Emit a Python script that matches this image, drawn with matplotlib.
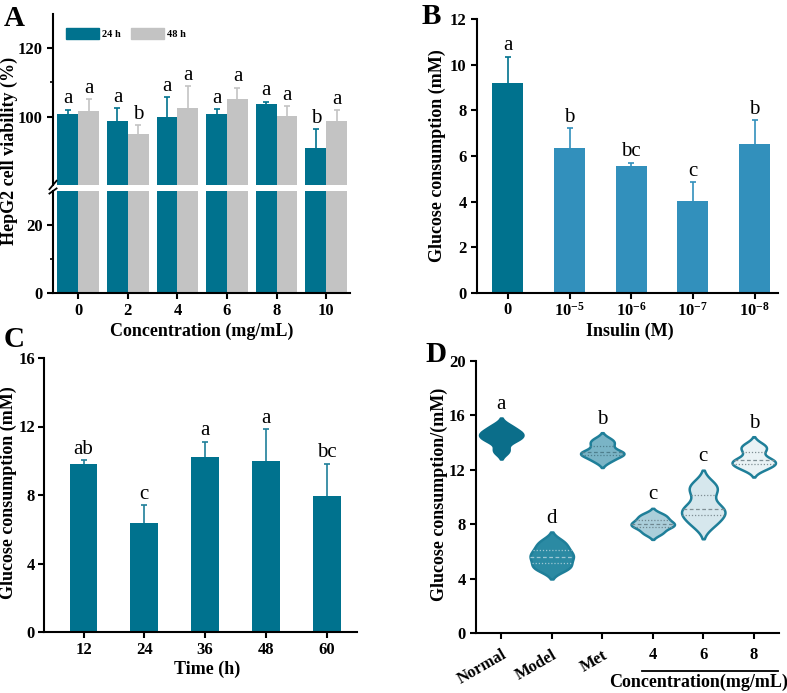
import numpy as np
import matplotlib.pyplot as plt
from matplotlib.patches import Patch
import matplotlib.transforms as mtransforms

plt.rcParams['font.family'] = ['Liberation Serif', 'DejaVu Serif']
plt.rcParams['font.weight'] = 'bold'
plt.rcParams['mathtext.fontset'] = 'custom'
plt.rcParams['mathtext.rm'] = 'Liberation Serif'
plt.rcParams['mathtext.bf'] = 'Liberation Serif:bold'
plt.rcParams['axes.linewidth'] = 1.5
plt.rcParams['xtick.major.width'] = 1.5
plt.rcParams['ytick.major.width'] = 1.5
plt.rcParams['ytick.minor.width'] = 1.2
plt.rcParams['xtick.major.size'] = 4
plt.rcParams['ytick.major.size'] = 4
plt.rcParams['ytick.minor.size'] = 2.5
plt.rcParams['xtick.labelsize'] = 12
plt.rcParams['ytick.labelsize'] = 12

# ---- data ----
# A: cell viability
conc_labels = ['0', '2', '4', '6', '8', '10']
via_24 = [100.8, 98.6, 100.0, 100.7, 103.7, 90.8]
sd_24 = [1.2, 3.9, 5.6, 1.5, 0.7, 5.6]
via_48 = [101.7, 94.9, 102.5, 105.1, 100.2, 98.6]
sd_48 = [3.4, 2.6, 6.4, 3.4, 2.8, 3.3]
sig_24 = ['a', 'a', 'a', 'a', 'a', 'b']
sig_48 = ['a', 'b', 'a', 'a', 'a', 'a']

# B: insulin
ins_labels = ['0', r'$\mathbf{10^{-5}}$', r'$\mathbf{10^{-6}}$', r'$\mathbf{10^{-7}}$', r'$\mathbf{10^{-8}}$']
ins_mean = [9.18, 6.35, 5.57, 4.05, 6.51]
ins_sd = [1.17, 0.86, 0.13, 0.81, 1.06]
ins_sig = ['a', 'b', 'bc', 'c', 'b']

# C: time
time_labels = ['12', '24', '36', '48', '60']
time_mean = [9.82, 6.36, 10.19, 10.01, 7.96]
time_sd = [0.21, 1.04, 0.92, 1.84, 1.86]
time_sig = ['ab', 'c', 'a', 'a', 'bc']

# D: treatment groups (replicates)
grp_labels = ['Normal', 'Model', 'Met', '4', '6', '8']
g_normal = [13.4, 14.1, 14.4, 14.6, 14.8, 15.2]
g_model = [4.7, 5.0, 5.5, 5.75, 6.2, 6.7]
g_met = [12.7, 13.1, 13.2, 13.35, 13.85, 14.2]
g_c4 = [7.35, 7.75, 7.95, 8.1, 8.4, 8.7]
g_c6 = [8.0, 8.6, 9.0, 9.3, 10.4, 10.9]
g_c8 = [12.1, 12.4, 12.6, 12.8, 13.45, 13.8]
grp_sig = ['a', 'd', 'b', 'c', 'c', 'b']

teal = '#00728E'
gray = '#C3C3C3'
blue = '#3290BC'
W, H = 787, 693


def px_axes(left, top, right, bottom):
    return [left / W, 1 - bottom / H, (right - left) / W, (bottom - top) / H]


def letters(ax, xs, tops, labs, size=15):
    for xx, tt, ll in zip(xs, tops, labs):
        ax.annotate(ll, (xx, tt), xytext=(0, 1), textcoords='offset points',
                    ha='center', va='bottom', fontsize=size, fontweight='normal')


def up_err(ax, xs, means, sds, color):
    # lower half sits behind the bar, so only the upper whisker shows
    ax.errorbar(xs, means, yerr=sds, fmt='none', ecolor=color, elinewidth=1.2,
                capsize=2.5, capthick=1.2, zorder=0.5)


fig = plt.figure(figsize=(W / 100, H / 100), dpi=100)

# ---------------- A ----------------
x = np.arange(len(conc_labels))
axA = fig.add_axes(px_axes(53, 14, 350, 185))
axA2 = fig.add_axes(px_axes(53, 191, 350, 293))
for ax in (axA, axA2):
    ax.bar(x - 0.21, via_24, 0.42, color=teal, zorder=1)
    ax.bar(x + 0.21, via_48, 0.42, color=gray, zorder=1)
    ax.set_xlim(-0.51, 5.48)
    ax.spines['top'].set_visible(False)
    ax.spines['right'].set_visible(False)
up_err(axA, x - 0.21, via_24, sd_24, teal)
up_err(axA, x + 0.21, via_48, sd_48, gray)
axA.set_ylim(80, 130)
axA.set_yticks([100, 120])
axA.set_yticks([110], minor=True)
axA.spines['bottom'].set_visible(False)
axA.set_xticks([])
axA2.set_ylim(0, 30)
axA2.set_yticks([0, 20])
axA2.set_yticks([10], minor=True)
axA2.set_xticks(x)
axA2.set_xticklabels(conc_labels)
letters(axA, x - 0.21, np.add(via_24, sd_24), sig_24)
letters(axA, x + 0.21, np.add(via_48, sd_48), sig_48)
# break marks
for ax, yy in ((axA, 0.0), (axA2, 1.0)):
    ax.plot([-0.012, 0.012], [yy - 0.025, yy + 0.025], transform=ax.transAxes,
            color='black', lw=1.3, clip_on=False)
fig.legend(handles=[Patch(color=teal, label='24 h'), Patch(color=gray, label='48 h')],
           loc='upper left', bbox_to_anchor=(66 / W, 1 - 28 / H), ncol=2, frameon=False,
           prop=dict(size=7.5, weight='bold'), handlelength=3.2, handleheight=1.3,
           columnspacing=0.9, handletextpad=0.3, borderpad=0, borderaxespad=0)
fig.text(9 / W, 1 - 151 / H, 'HepG2 cell viability (%)', rotation=90,
         ha='center', va='center', fontsize=13)
fig.text(202 / W, 1 - 331 / H, 'Concentration (mg/mL)', ha='center', va='center', fontsize=13)
fig.text(4 / W, 1 - 5 / H, 'A', ha='left', va='top', fontsize=21)

# ---------------- B ----------------
axB = fig.add_axes(px_axes(477, 19, 778, 293))
xb = np.arange(len(ins_labels))
axB.bar(xb, ins_mean, 0.5, color=[teal] + [blue] * 4, zorder=1)
up_err(axB, xb[:1], ins_mean[:1], ins_sd[:1], teal)
up_err(axB, xb[1:], ins_mean[1:], ins_sd[1:], blue)
axB.set_xlim(-0.5, 4.38)
axB.set_ylim(0, 12)
axB.set_yticks(range(0, 13, 2))
axB.set_xticks(xb)
axB.set_xticklabels(ins_labels)
axB.tick_params(axis='x', pad=2.5)
axB.spines['top'].set_visible(False)
axB.spines['right'].set_visible(False)
letters(axB, xb, np.add(ins_mean, ins_sd), ins_sig)
fig.text(437 / W, 1 - 156 / H, 'Glucose consumption (mM)', rotation=90,
         ha='center', va='center', fontsize=13)
fig.text(630 / W, 1 - 331 / H, 'Insulin (M)', ha='center', va='center', fontsize=13)
fig.text(422 / W, 1 - 3 / H, 'B', ha='left', va='top', fontsize=21)

# ---------------- C ----------------
axC = fig.add_axes(px_axes(44, 358, 357, 632))
xc = np.arange(len(time_labels))
axC.bar(xc, time_mean, 0.46, color=teal, zorder=1)
up_err(axC, xc, time_mean, time_sd, '#1F7F99')
axC.set_xlim(-0.65, 4.5)
axC.set_ylim(0, 16)
axC.set_yticks(range(0, 17, 4))
axC.set_xticks(xc)
axC.set_xticklabels(time_labels)
axC.tick_params(axis='y', pad=2.5)
axC.spines['top'].set_visible(False)
axC.spines['right'].set_visible(False)
letters(axC, xc, np.add(time_mean, time_sd), time_sig)
fig.text(8 / W, 1 - 493 / H, 'Glucose consumption (mM)', rotation=90,
         ha='center', va='center', fontsize=13)
fig.text(207 / W, 1 - 669 / H, 'Time (h)', ha='center', va='center', fontsize=13)
fig.text(4 / W, 1 - 326 / H, 'C', ha='left', va='top', fontsize=21)

# ---------------- D ----------------
axD = fig.add_axes(px_axes(476, 361, 779, 633))
groups = [g_normal, g_model, g_met, g_c4, g_c6, g_c8]
fills = ['#0B6E8A', '#2B8AA3', '#7AB4C6', '#ABCEDA', '#D6E7ED', '#E9F2F5']
edges = ['#0B6E8A', '#1F7F99', '#1F7F99', '#1F7F99', '#1F7F99', '#1F7F99']
inner = ['#0B6E8A', '#9CC7D4', '#4F7F8E', '#6F8790', '#7F8F95', '#7F8F95']
for i, vals in enumerate(groups):
    vals = np.asarray(vals)
    bw = 0.7 * vals.std(ddof=1) * len(vals) ** (-0.2)
    yy = np.linspace(vals.min() - 2 * bw, vals.max() + 2 * bw, 300)
    dens = np.exp(-0.5 * ((yy[:, None] - vals[None, :]) / bw) ** 2).sum(axis=1)
    dens = dens / dens.max() * 0.43
    axD.fill_betweenx(yy, i - dens, i + dens, facecolor=fills[i], edgecolor=edges[i], lw=1.8)
    q1, q2, q3 = np.percentile(vals, [25, 50, 75])
    for q, ls in ((q1, (0, (1, 1.5))), (q2, (0, (3, 2))), (q3, (0, (1, 1.5)))):
        hw = np.interp(q, yy, dens)
        axD.plot([i - hw, i + hw], [q, q], color=inner[i], lw=0.9, linestyle=ls)
    axD.annotate(grp_sig[i], (i, yy.max()), xytext=(0, 3), textcoords='offset points',
                 ha='center', va='bottom', fontsize=15, fontweight='normal')
axD.set_xlim(-0.5, 5.5)
axD.set_ylim(0, 20)
axD.set_yticks(range(0, 21, 4))
axD.set_xticks(range(6))
axD.set_xticklabels(grp_labels)
axD.tick_params(axis='x', pad=6)
for lab in axD.get_xticklabels()[:3]:
    lab.set_rotation(30)
    lab.set_ha('right')
    lab.set_va('top')
    lab.set_rotation_mode('anchor')
axD.spines['top'].set_visible(False)
axD.spines['right'].set_visible(False)
trD = mtransforms.blended_transform_factory(axD.transData, axD.transAxes)
axD.plot([2.78, 5.48], [-0.138, -0.138], transform=trD, color='black', lw=1.3, clip_on=False)
axD.text(3.9, -0.182, 'Concentration(mg/mL)', transform=trD, ha='center', va='center', fontsize=13)
fig.text(439 / W, 1 - 494 / H, 'Glucose consumption/(mM)', rotation=90,
         ha='center', va='center', fontsize=13)
fig.text(425 / W, 1 - 341 / H, 'D', ha='left', va='top', fontsize=21)

fig.savefig('out.png', dpi=100)
